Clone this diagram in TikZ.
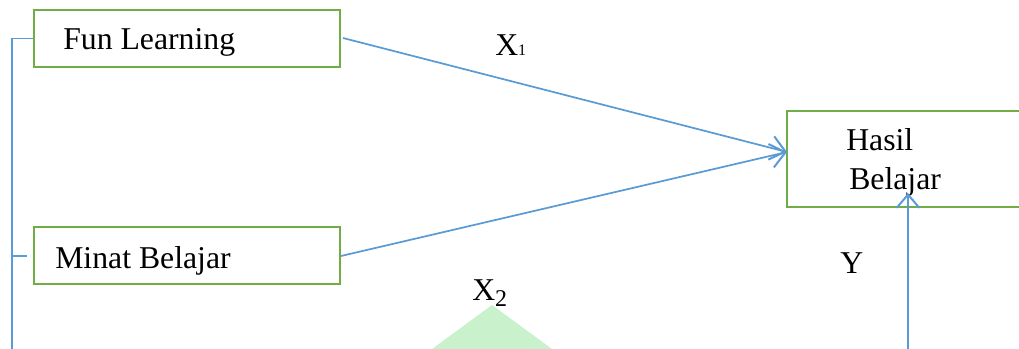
\documentclass[tikz,border=0pt]{standalone}
\usepackage{fontspec}
\setmainfont{Liberation Serif}
\usetikzlibrary{arrows.meta}
\definecolor{boxgreen}{HTML}{70AD47}
\definecolor{linkblue}{HTML}{5B9BD5}
\definecolor{trigreen}{HTML}{C9F1CC}
\tikzset{
  box/.style={draw=boxgreen, line width=2pt, minimum width=306*0.75pt, minimum height=57*0.75pt, inner sep=0pt},
  lbl/.style={anchor=base west, inner sep=0pt, font=\fontsize{23.8}{28}\selectfont},
  conn/.style={draw=linkblue, line width=1.3pt},
  arr/.style={conn, -{Straight Barb[length=11pt, width=18pt, line width=1.5pt]}},
}
\begin{document}
\begin{tikzpicture}[x=0.75pt, y=-0.75pt]
\useasboundingbox (0,0) rectangle (1019,349);
\clip (0,0) rectangle (1019,349);
% boxes
\node[box] (fun) at (187,38.5) {};
\node[box] (minat) at (187,255.5) {};
\node[box, minimum width=250*0.75pt, minimum height=96*0.75pt] (hasil) at (912,159) {};
% box texts
\node[lbl] (tfun) at (63,50) {Fun Learning};
\node[lbl] (tminat) at (55,268) {Minat Belajar};
\node[lbl] (thasil1) at (846,150) {Hasil};
\node[lbl] (thasil2) at (849,189) {Belajar};
% variable labels
\node[lbl] (x1) at (495,56) {X\raisebox{0pt}{\fontsize{12}{13}\selectfont 1}};
\node[lbl] (x2) at (472,300) {X\raisebox{-5pt}{\fontsize{18}{19}\selectfont 2}};
\node[lbl] (y) at (840,273) {Y};
% connectors
\coordinate (hin) at (787,152);
\coordinate (funout) at (343,38);
\coordinate (minout) at (341,256);
\draw[arr] (funout) -- (hin);
\draw[arr] (minout) -- (hin);
\coordinate (vbot) at (908,360);
\coordinate (vtop) at (908,193);
\draw[conn, line width=2.2pt, -{Straight Barb[length=10pt, width=17pt, line width=1.5pt]}] (vbot) -- (vtop);
% left bracket
\coordinate (lb) at (12,360);
\coordinate (ms) at (27,256);
\draw[conn, line width=1pt] (fun.west) -| (lb);
\draw[conn, line width=1pt] (ms) -- (ms -| lb);
% green triangle
\fill[trigreen] (492,305) -- (432,349) -- (552,349) -- cycle;
\end{tikzpicture}
\end{document}
